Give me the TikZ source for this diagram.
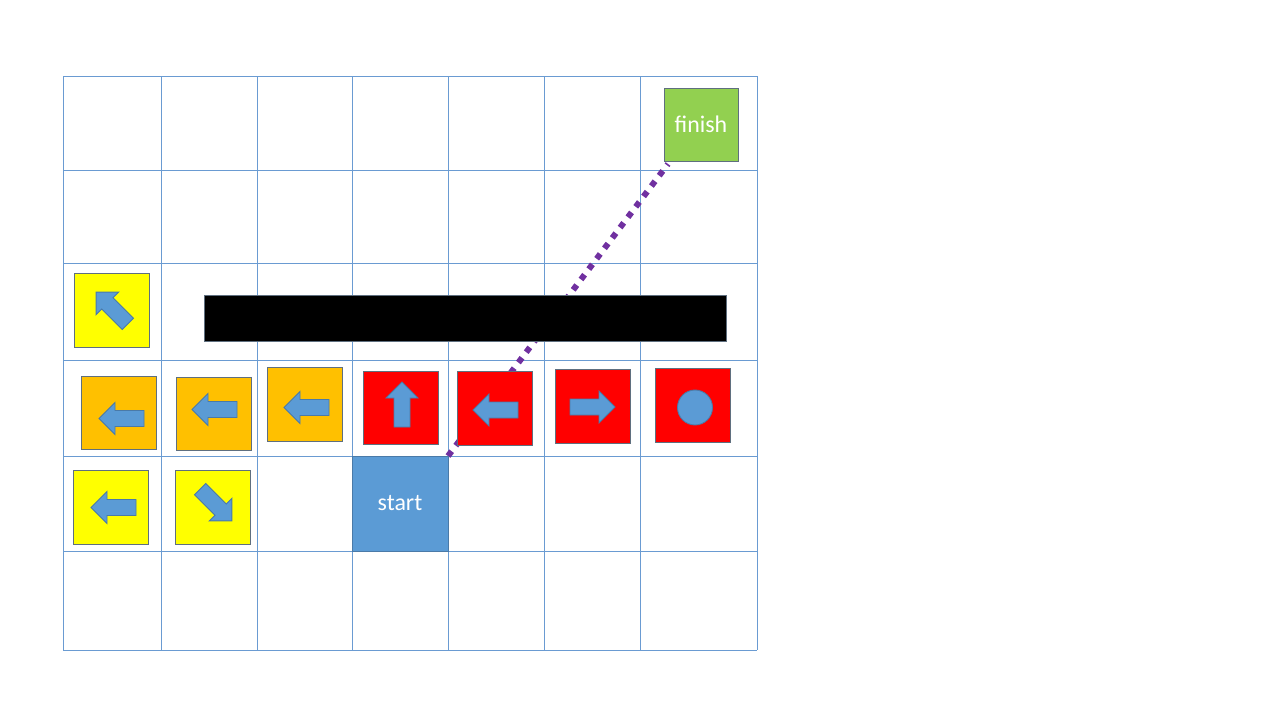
\documentclass[tikz,border=0pt]{standalone}
\usepackage{fontspec}
\setmainfont{Carlito}
\usepackage{tikz}
\pgfdeclarelayer{edgelayer}
\pgfdeclarelayer{nodelayer}
\pgfsetlayers{edgelayer,nodelayer,main}
\definecolor{gridblue}{HTML}{6A9BD2}
\definecolor{tileedge}{HTML}{5F6F7F}
\definecolor{arrowblue}{HTML}{5B9BD5}
\definecolor{arrowedge}{HTML}{4A7AA8}
\definecolor{tileorange}{HTML}{FFC000}
\definecolor{tileyellow}{HTML}{FFFF00}
\definecolor{tilegreen}{HTML}{92D050}
\definecolor{pathpurple}{HTML}{7030A0}
\tikzstyle{tile}=[rectangle, draw=tileedge, line width=0.5pt, inner sep=0pt, outer sep=0pt, minimum width=1.5cm, minimum height=1.47cm]
\tikzstyle{yellowtile}=[tile, fill=tileyellow]
\tikzstyle{orangetile}=[tile, fill=tileorange]
\tikzstyle{redtile}=[tile, fill=red]
\tikzstyle{gridline}=[draw=gridblue, line width=0.45pt]
\tikzstyle{arrowshape}=[fill=arrowblue, draw=arrowedge, line width=0.5pt]
\tikzstyle{route}=[draw=pathpurple, line width=3.4pt, dash pattern=on 3.4pt off 4pt]
\newcommand{\blockarrow}[2]{\draw[arrowshape, shift={#1}, rotate=#2] (-22.5,0) -- (-6.5,-16) -- (-6.5,-8) -- (22.5,-8) -- (22.5,8) -- (-6.5,8) -- (-6.5,16) -- cycle;}

\begin{document}
\begin{tikzpicture}[x=0.02cm, y=-0.02cm]
	\useasboundingbox (0,0) rectangle (1280,720);
	\begin{pgfonlayer}{nodelayer}

	%tiles
		\node [style=yellowtile] (1) at (111.5,310.5) {};
		\node [style=orangetile] (2) at (118.5,413) {};
		\node [style=orangetile] (3) at (214,414) {};
		\node [style=orangetile] (4) at (305,404.5) {};
		\node [style=yellowtile] (5) at (111,507.5) {};
		\node [style=yellowtile] (6) at (213,507.5) {};
		\node [style=redtile] (7) at (401,408) {};
		\node [style=redtile] (8) at (495,408.5) {};
		\node [style=redtile] (9) at (593,406.5) {};
		\node [style=redtile] (10) at (693,405.5) {};

		%wall, start, finish
		\node [tile, fill=black, minimum width=10.44cm, minimum height=0.92cm] (wall) at (465,318) {};
		\node [tile, fill=arrowblue, draw=arrowedge, minimum width=1.92cm, minimum height=1.9cm, text=white, font=\fontsize{13.6}{16}\selectfont] (start) at (400,503.5) {\raisebox{-2.5pt}{start}};
		\node [tile, fill=tilegreen, minimum width=1.48cm, minimum height=1.46cm, text=white, font=\fontsize{13.6}{16}\selectfont] (finish) at (701,124.5) {finish};

	\end{pgfonlayer}
	\begin{pgfonlayer}{edgelayer}

		%grid
		\foreach \x in {63,161,257,352,448,544,640,757}
			\draw[style=gridline] (\x,76) -- (\x,650);
		\foreach \y in {76,170,263,360,456,551,650}
			\draw[style=gridline] (63,\y) -- (757,\y);

		%route
		\draw[style=route] (start.north east) to ([xshift=0.08cm,yshift=-0.06cm]finish.south west);

	\end{pgfonlayer}

	%arrows
	\blockarrow{(112,308)}{-45}
	\blockarrow{(121.5,418.5)}{0}
	\blockarrow{(214.5,409.5)}{0}
	\blockarrow{(306.5,407.5)}{0}
	\blockarrow{(113.5,507.5)}{0}
	\blockarrow{(216,505)}{135}
	\blockarrow{(402,404.5)}{-90}
	\blockarrow{(495.5,410)}{0}
	\blockarrow{(592.5,407)}{180}
	\draw[arrowshape] (695,407.5) circle (0.35cm);
\end{tikzpicture}
\end{document}
